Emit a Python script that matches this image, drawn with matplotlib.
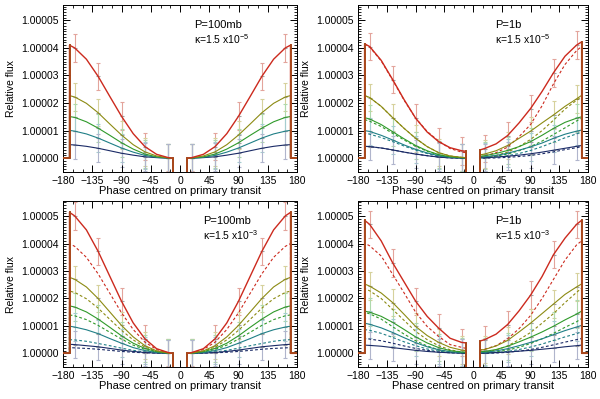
import matplotlib
matplotlib.use("Agg")
import matplotlib.pyplot as plt
from matplotlib.ticker import MultipleLocator, FuncFormatter

# |phase| grid (deg) on which the curves were read, transit edge -> eclipse edge
grid = [11, 18, 36, 54, 72, 90, 108, 126, 144, 162, 170]
# phases carrying error bars (indices into grid)
err_idx = [1, 3, 5, 7, 9]
err_half = 0.5  # in units of 1e-5

names = ["red", "olive", "green", "teal", "blue"]
colours = ["#cc2a1e", "#8c8a12", "#2f9a2a", "#1f7f86", "#1a2a66"]
err_colours = ["#e3a49c", "#d6d19c", "#afd9ac", "#a5cdd0", "#b0b5cc"]

# flux excess in units of 1e-5, order red, olive, green, teal, blue
# P=100mb, kappa=1.5e-5 (symmetric, solid and dashed coincide)
tl_solid = [
    [0.0, 0.02, 0.14, 0.42, 0.89, 1.52, 2.24, 2.97, 3.59, 4.00, 4.10],
    [0.0, 0.01, 0.08, 0.23, 0.49, 0.84, 1.24, 1.65, 1.99, 2.22, 2.27],
    [0.0, 0.01, 0.05, 0.15, 0.33, 0.56, 0.83, 1.09, 1.32, 1.48, 1.51],
    [0.0, 0.00, 0.03, 0.10, 0.22, 0.37, 0.55, 0.73, 0.88, 0.98, 1.01],
    [0.0, 0.00, 0.02, 0.05, 0.11, 0.18, 0.27, 0.36, 0.43, 0.48, 0.49],
]

# P=1b, kappa=1.5e-5
tr_solid_left = [
    [0.25, 0.27, 0.38, 0.60, 0.95, 1.45, 2.12, 2.85, 3.55, 4.05, 4.15],
    [0.02, 0.03, 0.08, 0.20, 0.42, 0.72, 1.08, 1.47, 1.88, 2.20, 2.27],
    [0.01, 0.02, 0.05, 0.13, 0.27, 0.46, 0.70, 0.96, 1.22, 1.42, 1.47],
    [0.00, 0.01, 0.03, 0.09, 0.19, 0.32, 0.48, 0.66, 0.83, 0.97, 1.00],
    [0.00, 0.00, 0.01, 0.04, 0.09, 0.15, 0.22, 0.30, 0.37, 0.42, 0.43],
]
tr_dashed_left = [
    [0.20, 0.22, 0.35, 0.62, 0.97, 1.45, 2.10, 2.83, 3.53, 4.03, 4.13],
    [0.02, 0.03, 0.08, 0.20, 0.42, 0.72, 1.08, 1.47, 1.88, 2.20, 2.27],
    [0.01, 0.02, 0.05, 0.12, 0.25, 0.43, 0.66, 0.90, 1.15, 1.34, 1.40],
    [0.00, 0.01, 0.03, 0.08, 0.17, 0.29, 0.44, 0.60, 0.75, 0.87, 0.90],
    [0.00, 0.00, 0.01, 0.04, 0.09, 0.15, 0.22, 0.30, 0.37, 0.42, 0.43],
]
tr_solid_right = [
    [0.30, 0.35, 0.52, 0.82, 1.28, 1.80, 2.42, 3.10, 3.70, 4.10, 4.22],
    [0.12, 0.15, 0.27, 0.46, 0.72, 0.98, 1.28, 1.57, 1.88, 2.15, 2.28],
    [0.07, 0.09, 0.17, 0.28, 0.42, 0.60, 0.83, 1.08, 1.30, 1.45, 1.50],
    [0.04, 0.05, 0.10, 0.18, 0.29, 0.41, 0.55, 0.72, 0.87, 0.98, 1.02],
    [0.02, 0.02, 0.04, 0.07, 0.11, 0.16, 0.22, 0.29, 0.36, 0.43, 0.46],
]
tr_dashed_right = [
    [0.05, 0.08, 0.20, 0.40, 0.78, 1.22, 1.90, 2.70, 3.40, 3.90, 4.05],
    [0.03, 0.04, 0.10, 0.22, 0.42, 0.68, 1.00, 1.38, 1.78, 2.10, 2.22],
    [0.02, 0.03, 0.07, 0.15, 0.27, 0.42, 0.62, 0.86, 1.10, 1.35, 1.45],
    [0.01, 0.01, 0.04, 0.09, 0.17, 0.28, 0.42, 0.58, 0.74, 0.88, 0.95],
    [0.00, 0.00, 0.01, 0.03, 0.06, 0.10, 0.16, 0.23, 0.31, 0.38, 0.42],
]

# P=100mb, kappa=1.5e-3 (symmetric)
bl_solid = [
    [0.0, 0.03, 0.17, 0.53, 1.11, 1.90, 2.81, 3.72, 4.50, 5.01, 5.14],
    [0.0, 0.01, 0.09, 0.28, 0.60, 1.02, 1.51, 2.00, 2.42, 2.70, 2.77],
    [0.0, 0.01, 0.06, 0.18, 0.37, 0.64, 0.95, 1.25, 1.51, 1.69, 1.73],
    [0.0, 0.00, 0.03, 0.10, 0.21, 0.37, 0.54, 0.72, 0.86, 0.96, 0.99],
    [0.0, 0.00, 0.01, 0.03, 0.07, 0.12, 0.18, 0.24, 0.28, 0.32, 0.33],
]
bl_dashed = [
    [0.0, 0.02, 0.14, 0.41, 0.87, 1.48, 2.19, 2.90, 3.50, 3.90, 4.00],
    [0.0, 0.01, 0.08, 0.23, 0.49, 0.84, 1.24, 1.65, 1.99, 2.22, 2.27],
    [0.0, 0.01, 0.05, 0.14, 0.30, 0.52, 0.77, 1.02, 1.23, 1.37, 1.40],
    [0.0, 0.00, 0.02, 0.05, 0.11, 0.19, 0.28, 0.36, 0.44, 0.49, 0.50],
    [0.0, 0.00, 0.01, 0.02, 0.04, 0.07, 0.11, 0.15, 0.18, 0.20, 0.21],
]

# P=1b, kappa=1.5e-3
br_solid_left = [
    [0.38, 0.40, 0.55, 0.92, 1.35, 1.90, 2.60, 3.30, 4.10, 4.70, 4.85],
    [0.10, 0.12, 0.22, 0.40, 0.65, 0.98, 1.42, 1.85, 2.20, 2.45, 2.53],
    [0.04, 0.05, 0.10, 0.21, 0.38, 0.60, 0.87, 1.13, 1.35, 1.50, 1.54],
    [0.02, 0.03, 0.06, 0.13, 0.24, 0.39, 0.57, 0.76, 0.93, 1.06, 1.10],
    [0.00, 0.01, 0.02, 0.04, 0.07, 0.11, 0.16, 0.21, 0.26, 0.29, 0.30],
]
br_dashed_left = [
    [0.18, 0.22, 0.32, 0.62, 0.98, 1.50, 2.20, 2.88, 3.55, 3.92, 4.02],
    [0.04, 0.05, 0.13, 0.28, 0.50, 0.80, 1.20, 1.60, 2.00, 2.28, 2.36],
    [0.01, 0.02, 0.05, 0.13, 0.27, 0.46, 0.70, 0.97, 1.25, 1.44, 1.50],
    [0.00, 0.01, 0.03, 0.08, 0.16, 0.28, 0.42, 0.58, 0.73, 0.84, 0.87],
    [0.00, 0.01, 0.02, 0.05, 0.11, 0.18, 0.27, 0.37, 0.46, 0.52, 0.54],
]
br_solid_right = [
    [0.45, 0.50, 0.70, 1.05, 1.55, 2.12, 2.80, 3.60, 4.20, 4.70, 4.85],
    [0.12, 0.14, 0.27, 0.47, 0.78, 1.10, 1.45, 1.80, 2.15, 2.42, 2.53],
    [0.06, 0.07, 0.14, 0.26, 0.42, 0.59, 0.78, 0.99, 1.22, 1.43, 1.54],
    [0.03, 0.04, 0.09, 0.17, 0.28, 0.40, 0.53, 0.68, 0.83, 0.96, 1.02],
    [0.01, 0.01, 0.03, 0.05, 0.08, 0.11, 0.15, 0.19, 0.24, 0.28, 0.30],
]
br_dashed_right = [
    [0.12, 0.15, 0.28, 0.53, 0.90, 1.38, 2.00, 2.70, 3.40, 3.95, 4.10],
    [0.04, 0.05, 0.12, 0.27, 0.50, 0.76, 1.10, 1.45, 1.85, 2.22, 2.38],
    [0.02, 0.02, 0.05, 0.12, 0.22, 0.36, 0.53, 0.73, 0.95, 1.15, 1.27],
    [0.01, 0.01, 0.03, 0.07, 0.14, 0.23, 0.34, 0.47, 0.60, 0.72, 0.78],
    [0.00, 0.00, 0.01, 0.04, 0.08, 0.14, 0.22, 0.31, 0.41, 0.50, 0.54],
]

panels = [
    # position, P label, kappa exponent, text x, solid L/R, dashed L/R
    ([0.105, 0.569, 0.390, 0.418], "P=100mb", "-5", 22, tl_solid, tl_solid, None, None),
    ([0.597, 0.569, 0.383, 0.418], "P=1b", "-5", 34, tr_solid_left, tr_solid_right, tr_dashed_left, tr_dashed_right),
    ([0.105, 0.080, 0.390, 0.416], "P=100mb", "-3", 35, bl_solid, bl_solid, bl_dashed, bl_dashed),
    ([0.597, 0.080, 0.383, 0.416], "P=1b", "-3", 34, br_solid_left, br_solid_right, br_dashed_left, br_dashed_right),
]

xticks = [-180, -135, -90, -45, 0, 45, 90, 135, 180]
yticks = [0, 1, 2, 3, 4, 5]
edge_colour = "#a8481c"


def flux(v):
    return 1.0 + v * 1e-5


def side_curve(vals, sign):
    x = [sign * 180, sign * 170] + [sign * g for g in grid[::-1]] + [sign * grid[0]]
    y = [0, 0] + vals[::-1] + [-2]
    return x, [flux(v) for v in y]


plt.rcParams['font.family'] = ['Liberation Sans', 'DejaVu Sans']
plt.rcParams['mathtext.fontset'] = 'custom'
plt.rcParams['mathtext.rm'] = 'Liberation Sans'
fig = plt.figure(figsize=(6.0, 3.99), dpi=100)

for pos, plabel, kexp, tx, sl, sr, dl, dr in panels:
    ax = fig.add_axes(pos)

    # error bars with grey points
    for k in range(5):
        for vals, sign in ((sl[k], -1), (sr[k], 1)):
            xs = [sign * grid[i] for i in err_idx]
            ys = [flux(vals[i]) for i in err_idx]
            ax.errorbar(xs, ys, yerr=err_half * 1e-5, fmt='_', color='#a0a0a0',
                        ms=3, mew=0.8, ecolor=err_colours[k], elinewidth=0.8,
                        capsize=1.5, capthick=0.6, zorder=1)

    for k in range(4, -1, -1):
        if dl is not None:
            for vals, sign in ((dl[k], -1), (dr[k], 1)):
                x, y = side_curve(vals, sign)
                ax.plot(x, y, color=colours[k], lw=0.8, ls=(0, (2.5, 2)), zorder=2)
        for vals, sign in ((sl[k], -1), (sr[k], 1)):
            x, y = side_curve(vals, sign)
            ax.plot(x, y, color=colours[k], lw=0.8 if k else 1.0, zorder=3)

    # eclipse and transit edges
    for vals, sign in ((sl[0], -1), (sr[0], 1)):
        ax.plot([sign * 180, sign * 170, sign * 170], [flux(0), flux(0), flux(vals[-1])],
                color=edge_colour, lw=1.4, zorder=4)
        ax.plot([sign * grid[0], sign * grid[0]], [flux(vals[0]), flux(-2)],
                color=edge_colour, lw=1.4, zorder=4)

    ax.set_xlim(-180, 180)
    ax.set_ylim(flux(-0.5), flux(5.55))
    ax.set_xticks(xticks)
    ax.set_xticklabels([str(t).replace('-', '\u2212') for t in xticks])
    ax.set_yticks([flux(t) for t in yticks])
    ax.yaxis.set_major_formatter(FuncFormatter(lambda v, p: "%.5f" % v))
    ax.xaxis.set_minor_locator(MultipleLocator(15))
    ax.yaxis.set_minor_locator(MultipleLocator(1e-6))
    ax.tick_params(which='both', direction='in', top=True, right=True, labelsize=7.5, pad=3)
    ax.tick_params(which='major', length=5, width=0.7)
    ax.tick_params(which='minor', length=2.5, width=0.6)
    for s in ax.spines.values():
        s.set_linewidth(0.7)
    ax.set_xlabel("Phase centred on primary transit", fontsize=8, labelpad=0)
    ax.set_ylabel("Relative flux", fontsize=7.5, labelpad=4)

    ax.text(tx, flux(4.82), plabel, fontsize=8, va='center', ha='left')
    ax.text(tx, flux(4.32), "\u03ba=1.5 x10$^{%s}$" % kexp, fontsize=7.5, va='center', ha='left')

fig.savefig("out.png", dpi=100)
